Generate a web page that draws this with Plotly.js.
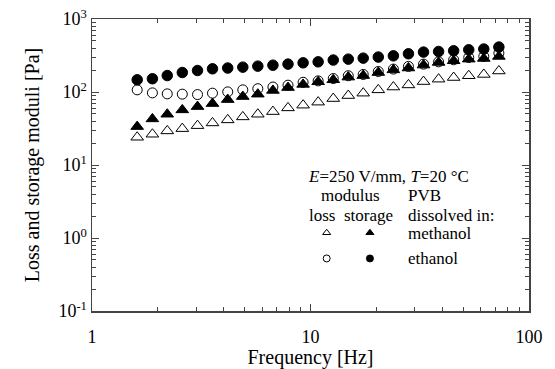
<!DOCTYPE html>
<html>
<head>
<meta charset="utf-8">
<script src="https://cdn.plot.ly/plotly-3.0.1.min.js"></script>
<style>html,body{margin:0;padding:0;background:#fff;}#chart{width:555px;height:369px;}</style>
</head>
<body>
<div id="chart"></div>
<script>
// Frequency [Hz]
var frequency = [1.61, 1.89, 2.21, 2.59, 3.04, 3.56, 4.18, 4.90, 5.74, 6.73, 7.89, 9.25, 10.84,
  12.71, 14.89, 17.43, 20.43, 23.95, 28.07, 32.90, 38.57, 45.2, 53.0, 62.1, 72.8];
// PVB dissolved in methanol
var methanolLoss = [24.0, 26.4, 29.3, 31.5, 34.6, 37.7, 41.5, 45.6, 49.6, 53.9, 60.6, 66.0, 72.6,
  81.3, 89.4, 96.4, 107, 117, 125, 139, 150, 158, 167, 174, 194];
var methanolStorage = [33.6, 42.8, 49.6, 56.9, 63.1, 69.4, 78.7, 86.6, 93.4, 105, 115, 127, 138,
  147, 160, 168, 185, 201, 213, 234, 254, 268, 282, 288, 307];
// PVB dissolved in ethanol
var ethanolLoss = [107, 97.3, 94.3, 93.4, 92.2, 96.4, 100.4, 107, 111, 117, 124, 136, 142,
  153, 167, 174, 191, 206, 224, 241, 259, 276, 297, 307, 341];
var ethanolStorage = [147, 152, 168, 185, 197, 208, 213, 219, 226, 233, 241, 251, 259,
  274, 282, 291, 301, 313, 334, 352, 359, 367, 379, 388, 413];

var xTickVals = [1, 10, 100];
var xTickText = ['1', '10', '100'];
var xMinorVals = [2, 3, 4, 5, 6, 7, 8, 9, 20, 30, 40, 50, 60, 70, 80, 90];
var yTickVals = [0.1, 1, 10, 100, 1000];
var yTickText = ['10<sup>-1</sup>', '10<sup>0</sup>', '10<sup>1</sup>', '10<sup>2</sup>', '10<sup>3</sup>'];
var yMinorVals = [0.2,0.3,0.4,0.5,0.6,0.7,0.8,0.9,2,3,4,5,6,7,8,9,20,30,40,50,60,70,80,90,200,300,400,500,600,700,800,900];

var FONT = 'Liberation Serif';
var AX = '#444';

function series(y, symbol, size) {
  return {x: frequency, y: y, type: 'scatter', mode: 'markers', showlegend: false,
    marker: {symbol: symbol, size: size, color: '#000', line: {color: '#000', width: 1}}};
}

var traces = [
  series(methanolLoss, 'triangle-up-open', 11),
  series(ethanolLoss, 'circle-open', 10),
  series(methanolStorage, 'triangle-up', 11),
  series(ethanolStorage, 'circle', 10.5)
];

// legend key markers on an overlay axis in fractional coordinates
var keyX = [0.537, 0.636, 0.537, 0.636];
var keyY = [0.268, 0.268, 0.180, 0.180];
var keySymbols = ['triangle-up-open', 'triangle-up', 'circle-open', 'circle'];
traces.push({x: keyX, y: keyY, xaxis: 'x2', yaxis: 'y2', type: 'scatter', mode: 'markers',
  showlegend: false, hoverinfo: 'skip',
  marker: {symbol: keySymbols, size: 7, color: '#000', line: {color: '#000', width: 1}}});

function ann(text, x, y, xanchor) {
  return {text: text, x: x, y: y, xref: 'paper', yref: 'paper', xanchor: xanchor, yanchor: 'middle',
    showarrow: false, borderpad: 0, font: {family: FONT, size: 17, color: '#000'}};
}

var layout = {
  width: 555, height: 369,
  margin: {l: 92, r: 25.7, t: 19.3, b: 58.3},
  paper_bgcolor: '#fff', plot_bgcolor: '#fff',
  font: {family: FONT, color: '#000'},
  xaxis: {type: 'log', range: [0, 2], tickmode: 'array', tickvals: xTickVals, ticktext: xTickText,
    ticks: 'inside', ticklen: 7, tickwidth: 1, tickcolor: AX, mirror: 'ticks', ticklabelstandoff: 9,
    showline: true, linecolor: AX, linewidth: 1.5, showgrid: false, zeroline: false,
    tickfont: {family: FONT, size: 18, color: '#000'},
    minor: {tickmode: 'array', tickvals: xMinorVals, ticks: 'inside', ticklen: 4, tickcolor: AX, showgrid: false},
    title: {text: 'Frequency [Hz]', font: {family: FONT, size: 20, color: '#000'}, standoff: 0}},
  yaxis: {type: 'log', range: [-1, 3], tickmode: 'array', tickvals: yTickVals, ticktext: yTickText,
    ticks: 'inside', ticklen: 7, tickwidth: 1, tickcolor: AX, mirror: 'ticks',
    showline: true, linecolor: AX, linewidth: 1.5, showgrid: false, zeroline: false,
    tickfont: {family: FONT, size: 18, color: '#000'},
    minor: {tickmode: 'array', tickvals: yMinorVals, ticks: 'inside', ticklen: 4, tickcolor: AX, showgrid: false},
    title: {text: 'Loss and storage moduli [Pa]', font: {family: FONT, size: 20, color: '#000'}, standoff: 13}},
  xaxis2: {overlaying: 'x', range: [0, 1], visible: false, fixedrange: true},
  yaxis2: {overlaying: 'y', range: [0, 1], visible: false, fixedrange: true},
  annotations: [
    ann('<i>E</i>=250 V/mm, <i>T</i>=20 °C', 0.491, 0.460, 'left'),
    ann('modulus', 0.592, 0.397, 'center'),
    ann('PVB', 0.720, 0.397, 'left'),
    ann('loss', 0.526, 0.328, 'center'),
    ann('storage', 0.632, 0.328, 'center'),
    ann('dissolved in:', 0.720, 0.328, 'left'),
    ann('methanol', 0.720, 0.266, 'left'),
    ann('ethanol', 0.720, 0.180, 'left')
  ]
};

Plotly.newPlot('chart', traces, layout, {staticPlot: true, displayModeBar: false});
</script>
</body>
</html>
